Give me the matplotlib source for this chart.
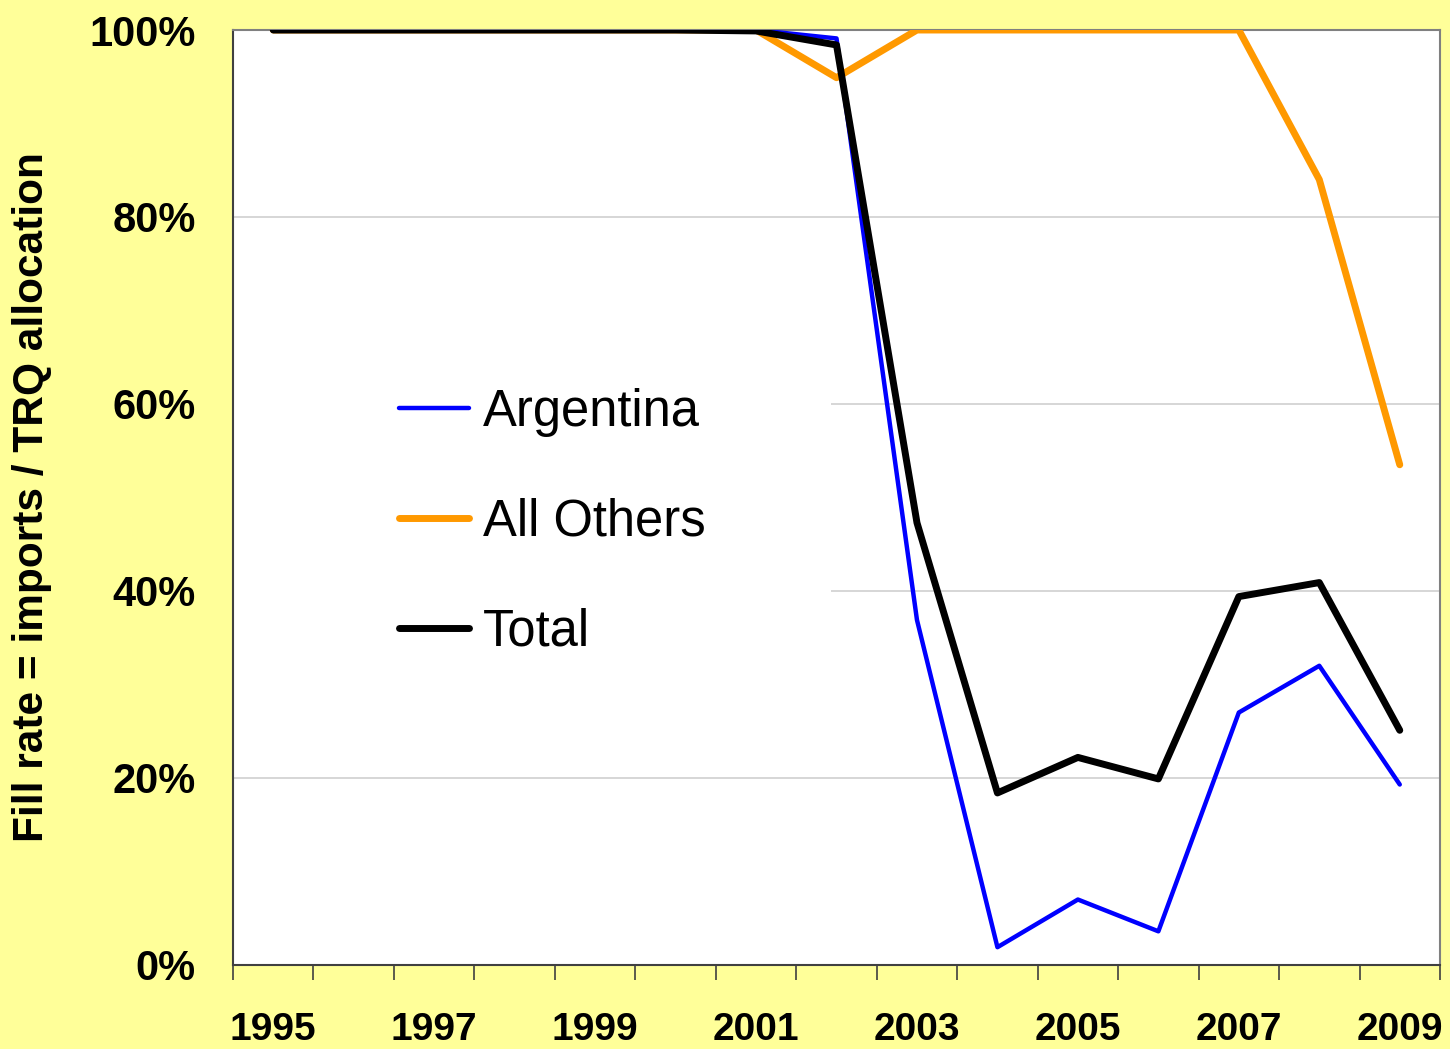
import matplotlib
matplotlib.use('Agg')
import matplotlib.pyplot as plt
import matplotlib.transforms as mtransforms
from matplotlib.patches import Rectangle
from matplotlib.ticker import FixedLocator, FuncFormatter

plt.rcParams['font.family'] = ['Liberation Sans', 'DejaVu Sans']

years = list(range(1995, 2010))
argentina = [100, 100, 100, 100, 100, 100, 100, 99.1, 36.9, 1.9, 7.0, 3.6, 27.0, 32.0, 19.3]
all_others = [100, 100, 100, 100, 100, 100, 100, 94.9, 100, 100, 100, 100, 100, 84.0, 53.5]
total = [100, 100, 100, 100, 100, 100, 99.9, 98.4, 47.3, 18.4, 22.2, 19.9, 39.4, 40.9, 25.1]
yticks = [0, 20, 40, 60, 80, 100]

bg = '#FFFF99'
fig = plt.figure(figsize=(14.5, 10.49), dpi=100, facecolor=bg)
ax = fig.add_axes([0.1607, 0.0801, 0.8324, 0.8913])
ax.set_facecolor('white')

x = list(range(len(years)))
ax.plot(x, argentina, color='#0000FF', lw=3.2, label='Argentina', zorder=3, solid_capstyle='round')
ax.plot(x, all_others, color='#FF9900', lw=5, label='All Others', zorder=3, solid_capstyle='round')
ax.plot(x, total, color='black', lw=5, label='Total', zorder=4, solid_capstyle='round')

ax.set_xlim(-0.5, len(years) - 0.5)
ax.set_ylim(0, 100)

# ticks on category boundaries, labels on every other year
ax.xaxis.set_major_locator(FixedLocator([i - 0.5 for i in range(len(years) + 1)]))
ax.xaxis.set_major_formatter(FuncFormatter(lambda v, p: ''))
ax.xaxis.set_minor_locator(FixedLocator(x[::2]))
ax.xaxis.set_minor_formatter(FuncFormatter(lambda v, p: str(years[int(round(v))])))
ax.tick_params(axis='x', which='major', direction='out', length=11, width=1.2, color='#404040')
ax.tick_params(axis='x', which='minor', length=0, pad=34, labelsize=28)
for lab in ax.xaxis.get_minorticklabels():
    lab.set_fontweight('bold')

ax.set_yticks(yticks)
ax.set_yticklabels([f'{v}%' for v in yticks], fontsize=30, fontweight='bold')
ax.tick_params(axis='y', length=0, pad=27)

ax.set_axisbelow(True)
ax.grid(axis='y', color='#D0D0D0', lw=1.2)

for side in ['top', 'right']:
    ax.spines[side].set_color('#808080')
    ax.spines[side].set_linewidth(1.5)
for side in ['left', 'bottom']:
    ax.spines[side].set_color('#404040')
    ax.spines[side].set_linewidth(1.5)

ax.set_ylabel('Fill rate = imports / TRQ allocation', fontsize=30.5, fontweight='bold')
ax.yaxis.set_label_coords(-0.150, 0.50)

# white box behind the legend hides gridlines
box_tr = mtransforms.blended_transform_factory(ax.transAxes, ax.transData)
ax.add_patch(Rectangle((0, 30), 0.4954, 40, transform=box_tr,
                       facecolor='white', edgecolor='none', zorder=1))

ax.legend(loc='center left', bbox_to_anchor=(0.258, 0.502), bbox_transform=fig.transFigure,
          frameon=False, fontsize=36.5, handlelength=1.38, handletextpad=0.26,
          labelspacing=1.2, borderpad=0)

fig.savefig('out.png', dpi=100, facecolor=bg)
